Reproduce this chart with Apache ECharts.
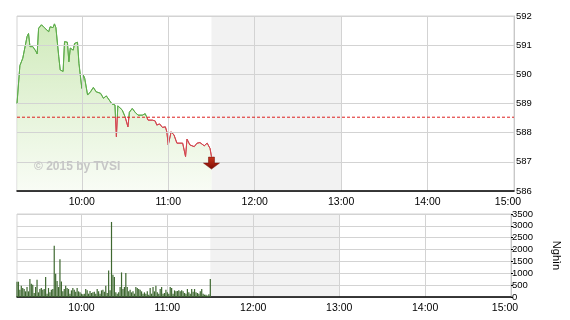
<!DOCTYPE html>
<html>
<head>
<meta charset="utf-8">
<script src="https://cdn.jsdelivr.net/npm/echarts@6/dist/echarts.min.js"></script>
<style>html,body{margin:0;padding:0;background:#fff;}#c{width:570px;height:320px;}</style>
</head>
<body>
<div id="c"></div>
<script>
// ---- data ----
const sessionStart = '09:15';
const sessionEnd = '15:00';
const hourTicks = ['10:00', '11:00', '12:00', '13:00', '14:00', '15:00'];
const breakStart = '11:30';
const breakEnd = '13:00';
const refPrice = 588.53;
const priceTicks = [586, 587, 588, 589, 590, 591, 592];
const volumeTicks = [0, 500, 1000, 1500, 2000, 2500, 3000, 3500];
const volumeUnit = 'Nghìn';
const watermark = '© 2015 by TVSI';

const priceTimes = ['09:15','09:17','09:19','09:22','09:23','09:24','09:26','09:28','09:29','09:30','09:32','09:34','09:37','09:38','09:40','09:41','09:42','09:44','09:45','09:47','09:48','09:50','09:51','09:52','09:54','09:55','09:57','09:58','10:00','10:01','10:02','10:04','10:06','10:08','10:10','10:13','10:15','10:17','10:19','10:21','10:23','10:24','10:25','10:28','10:30','10:32','10:33','10:35','10:37','10:39','10:42','10:44','10:46','10:49','10:51','10:52','10:54','10:56','10:58','10:59','11:00','11:02','11:04','11:06','11:07','11:10','11:12','11:13','11:15','11:18','11:20','11:22','11:25','11:27','11:29','11:30'];
const priceValues = [589.0,590.3,590.55,591.3,591.4,590.95,590.95,590.8,590.7,591.58,591.7,591.6,591.46,591.63,591.6,591.73,591.6,590.6,590.15,590.1,591.12,591.1,590.43,590.9,590.83,591.06,591.1,590.38,589.52,589.98,589.86,589.29,589.4,589.55,589.4,589.35,589.18,589.26,589.12,588.98,588.95,587.86,588.92,588.78,588.55,588.2,588.7,588.83,588.7,588.6,588.6,588.65,588.43,588.43,588.4,588.26,588.3,588.18,588.2,588.03,587.58,588.03,587.92,587.64,587.58,587.64,587.18,587.78,587.58,587.52,587.64,587.66,587.55,587.64,587.46,587.18];

// volume per minute, starting 09:15
const volumeStart = '09:15';
const volumeValues = [644,644,308,476,378,336,238,420,238,756,560,518,168,420,728,196,336,378,308,336,840,140,378,196,308,336,2156,980,672,420,1596,658,238,336,476,378,336,140,280,378,308,224,378,238,196,140,112,140,336,280,140,252,168,196,224,140,336,238,140,280,308,224,476,168,1120,280,3164,938,840,196,140,196,420,1036,336,420,1008,420,238,308,196,238,140,420,378,336,308,238,140,196,140,238,98,378,140,420,238,476,196,140,336,420,140,168,308,196,140,420,378,140,280,238,252,280,238,280,238,168,140,336,196,140,336,224,336,196,168,140,238,336,140,98,98,56,112,756];

// ---- helpers ----
const toMin0 = (() => { const p = sessionStart.split(':'); return (+p[0]) * 60 + (+p[1]); })();
function toMin(t) { const p = t.split(':'); return (+p[0]) * 60 + (+p[1]) - toMin0; }
function fmt(m) { const t = m + toMin0; const h = Math.floor(t / 60), mm = t % 60; return h + ':' + (mm < 10 ? '0' : '') + mm; }

const xMin = toMin(sessionStart), xMax = toMin(sessionEnd);
const tickVals = hourTicks.map(toMin);
const priceData = priceTimes.map((t, i) => [toMin(t), priceValues[i]]);
const v0 = toMin(volumeStart);
const volumeData = volumeValues.map((v, i) => [v0 + i, v]);
const lastPt = priceData[priceData.length - 1];

const FONT = 'Liberation Sans, Arial, sans-serif';
const GRID_C = '#d3d3d3';
const UP_C = '#5fad4c', DOWN_C = '#d2464f';
const REF_C = '#dd1f1f';

function xAxis(gridIndex) {
  return {
    type: 'value', gridIndex, min: xMin, max: xMax, z: 3,
    axisLine: { show: true, onZero: false, lineStyle: { color: '#000', width: 1.5 } },
    axisTick: { show: false, customValues: tickVals },
    splitLine: { show: true, lineStyle: { color: GRID_C, width: 1 } },
    axisLabel: {
      customValues: tickVals, margin: 6, fontSize: 10.5, color: '#000', fontFamily: FONT,
      formatter: v => v === xMax ? '{r|' + fmt(v) + '}' : fmt(v),
      rich: { r: { fontSize: 10.5, fontFamily: FONT, color: '#000', padding: [0, 12, 0, 0] } }
    }
  };
}

function breakArea() {
  return {
    silent: true, z: 1,
    itemStyle: { color: '#f2f2f2' },
    data: [[{ xAxis: toMin(breakStart) }, { xAxis: toMin(breakEnd) }]]
  };
}

const option = {
  animation: false,
  backgroundColor: '#fff',
  grid: [
    { left: 17, right: 56, top: 16, height: 175, show: true, borderColor: GRID_C, borderWidth: 1, backgroundColor: '#fff' },
    { left: 17, right: 56, top: 214, height: 83, show: true, borderColor: GRID_C, borderWidth: 1, backgroundColor: '#fff' }
  ],
  xAxis: [xAxis(0), xAxis(1)],
  yAxis: [
    {
      type: 'value', gridIndex: 0, position: 'right', z: 3,
      min: priceTicks[0], max: priceTicks[priceTicks.length - 1], interval: 1,
      axisLine: { show: true, onZero: false, lineStyle: { color: '#c8c8c8' } },
      axisTick: { show: false },
      splitLine: { lineStyle: { color: GRID_C } },
      axisLabel: { margin: 2, fontSize: 9.5, color: '#000', fontFamily: FONT }
    },
    {
      type: 'value', gridIndex: 1, position: 'right', z: 3,
      min: volumeTicks[0], max: volumeTicks[volumeTicks.length - 1], interval: 500,
      axisLine: { show: true, onZero: false, lineStyle: { color: '#c8c8c8' } },
      axisTick: { show: true, inside: false, length: 2, lineStyle: { color: '#000' } },
      splitLine: { lineStyle: { color: GRID_C } },
      axisLabel: { margin: 1, fontSize: 9.5, color: '#000', fontFamily: FONT, formatter: v => String(v) },
      name: volumeUnit, nameLocation: 'middle', nameRotate: -90, nameGap: 40,
      nameTextStyle: { fontSize: 11, color: '#000', fontFamily: FONT }
    }
  ],
  series: [
    {
      type: 'line', xAxisIndex: 0, yAxisIndex: 0, data: priceData,
      showSymbol: false, z: 2,
      lineStyle: { width: 1, color: UP_C },
      areaStyle: {
        origin: 'start',
        color: new echarts.graphic.LinearGradient(0, 0, 0, 1, [
          { offset: 0, color: '#bde2a0' }, { offset: 1, color: '#f6fbf1' }
        ])
      },
      markArea: breakArea(),
      markPoint: {
        silent: true,
        symbol: 'path://M5,0 L11,0 L11,6 L16,6 L8,12 L0,6 L5,6 Z',
        symbolSize: [16, 12], symbolOffset: [0, 6.5],
        label: { show: false },
        itemStyle: {
          color: new echarts.graphic.LinearGradient(0, 0, 0, 1, [
            { offset: 0, color: '#c8341c' }, { offset: 1, color: '#7d0a04' }
          ]),
          borderColor: '#6e0a04', borderWidth: 0.5
        },
        data: [{ xAxis: lastPt[0], yAxis: lastPt[1] }]
      }
    },
    {
      // reference (previous close) price, dashed across the session
      type: 'line', xAxisIndex: 0, yAxisIndex: 0, z: 5, silent: true,
      data: [[xMin, refPrice], [xMax, refPrice]],
      showSymbol: false, symbol: 'none',
      lineStyle: { color: REF_C, type: [3, 2], width: 1 },
      itemStyle: { color: REF_C }
    },
    {
      type: 'bar', xAxisIndex: 1, yAxisIndex: 1, data: volumeData, z: 4,
      barWidth: 1.2, itemStyle: { color: '#3e6830' },
      markArea: breakArea()
    }
  ],
  graphic: [
    { type: 'text', left: 34, top: 161, z: 10, silent: true,
      style: { text: watermark, fill: '#c6c6c6', font: 'bold 12px ' + FONT } }
  ]
};

const chart = echarts.init(document.getElementById('c'), null, { renderer: 'canvas' });
chart.setOption(option);

// colour the price line green above / red below the reference price (hard split at its pixel row)
const yTop = chart.convertToPixel({ yAxisIndex: 0 }, priceTicks[priceTicks.length - 1]);
const yBot = chart.convertToPixel({ yAxisIndex: 0 }, priceTicks[0]);
const yRef = chart.convertToPixel({ yAxisIndex: 0 }, refPrice);
const f = (yRef - yTop) / (yBot - yTop);
chart.setOption({
  series: [{
    lineStyle: {
      color: new echarts.graphic.LinearGradient(0, yTop, 0, yBot, [
        { offset: 0, color: UP_C }, { offset: f, color: UP_C },
        { offset: f, color: DOWN_C }, { offset: 1, color: DOWN_C }
      ], true)
    }
  }]
});
</script>
</body>
</html>
